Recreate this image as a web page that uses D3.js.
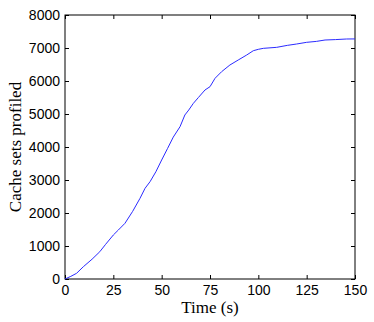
<!DOCTYPE html>
<html>
<head>
<meta charset="utf-8">
<script src="https://cdn.jsdelivr.net/npm/d3@7"></script>
<style>
  body { margin: 0; background: #fff; }
  .tick text { font-family: "Liberation Sans", Arial, sans-serif; font-size: 14px; fill: #000; }
  .axis-label { font-family: "Liberation Serif", "DejaVu Serif", serif; font-size: 17px; fill: #000; }
</style>
</head>
<body>
<div id="svg-area"></div>
<script>
// Data
var timeSec = [0, 3, 6, 9.5, 14, 18, 21, 25, 27.6, 31, 35, 38.8, 41.4, 44, 47, 50, 53, 56, 59.5, 62, 64, 66.4, 69, 72.4, 75, 77.6, 81, 85.3, 89.6, 94, 97.4, 100, 102.6, 109.5, 115, 119.8, 125, 130, 134.5, 140, 145.7, 150];
var setsProfiled = [0, 80, 173, 373, 600, 827, 1050, 1333, 1485, 1687, 2050, 2445, 2748, 2950, 3250, 3606, 3950, 4300, 4616, 4970, 5120, 5323, 5500, 5727, 5828, 6081, 6282, 6485, 6636, 6788, 6918, 6960, 6990, 7020, 7080, 7121, 7172, 7200, 7242, 7255, 7273, 7275];
var xTicks = [0, 25, 50, 75, 100, 125, 150];
var yTicks = [0, 1000, 2000, 3000, 4000, 5000, 6000, 7000, 8000];

var svgWidth = 374;
var svgHeight = 322;
var margin = { top: 15, right: 19, bottom: 43, left: 65 };
var chartWidth = svgWidth - margin.left - margin.right;
var chartHeight = svgHeight - margin.top - margin.bottom;

var svg = d3.select("#svg-area")
  .append("svg")
  .attr("width", svgWidth)
  .attr("height", svgHeight);

var chartGroup = svg.append("g")
  .attr("transform", `translate(${margin.left}, ${margin.top})`);

var xScale = d3.scaleLinear().domain([0, 150]).range([0, chartWidth]);
var yScale = d3.scaleLinear().domain([0, 8000]).range([chartHeight, 0]);

// box frame
chartGroup.append("rect")
  .attr("width", chartWidth)
  .attr("height", chartHeight)
  .attr("fill", "none")
  .attr("stroke", "#000")
  .attr("stroke-width", 1);

// bottom axis, ticks pointing inward
var bottomAxis = chartGroup.append("g")
  .attr("transform", `translate(0, ${chartHeight})`)
  .call(d3.axisBottom(xScale).tickValues(xTicks).tickFormat(d3.format("d"))
    .tickSizeInner(-4).tickSizeOuter(0).tickPadding(6));
bottomAxis.select(".domain").remove();

// left axis
var leftAxis = chartGroup.append("g")
  .call(d3.axisLeft(yScale).tickValues(yTicks).tickFormat(d3.format("d"))
    .tickSizeInner(-4).tickSizeOuter(0).tickPadding(5));
leftAxis.select(".domain").remove();

// mirrored ticks on top and right
chartGroup.append("g")
  .call(d3.axisTop(xScale).tickValues(xTicks).tickSizeInner(-4).tickSizeOuter(0).tickFormat(""))
  .select(".domain").remove();
chartGroup.append("g")
  .attr("transform", `translate(${chartWidth}, 0)`)
  .call(d3.axisRight(yScale).tickValues(yTicks).tickSizeInner(-4).tickSizeOuter(0).tickFormat(""))
  .select(".domain").remove();

// the curve
var line = d3.line()
  .x((d, i) => xScale(timeSec[i]))
  .y(d => yScale(d));

chartGroup.append("path")
  .datum(setsProfiled)
  .attr("d", line)
  .attr("fill", "none")
  .attr("stroke", "#2b2bff")
  .attr("stroke-width", 1);

// axis labels
svg.append("text")
  .attr("class", "axis-label")
  .attr("x", margin.left + chartWidth / 2)
  .attr("y", 313)
  .attr("text-anchor", "middle")
  .text("Time (s)");

svg.append("text")
  .attr("class", "axis-label")
  .attr("transform", `translate(21, ${margin.top + chartHeight / 2}) rotate(-90)`)
  .attr("text-anchor", "middle")
  .text("Cache sets profiled");
</script>
</body>
</html>
